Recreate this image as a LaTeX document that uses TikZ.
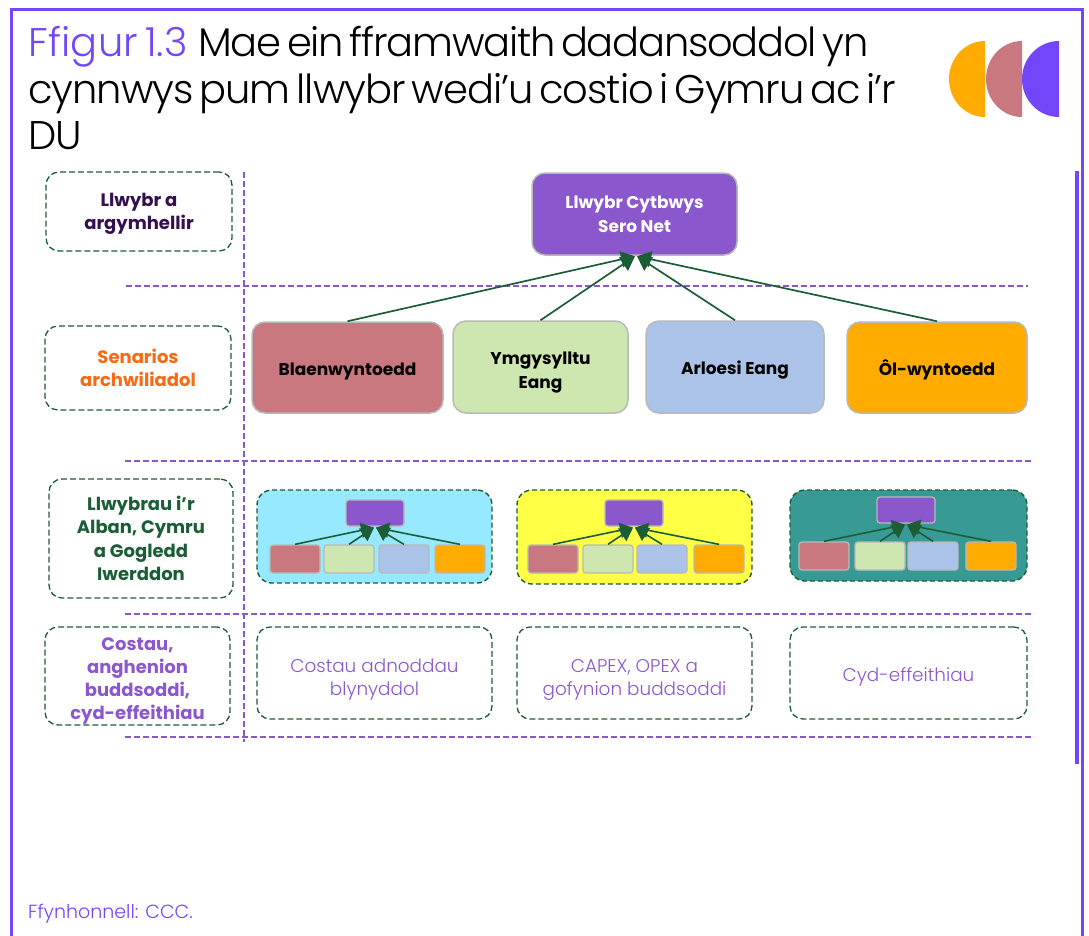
\documentclass[tikz,border=0pt]{standalone}
\usepackage{fontspec}
\setmainfont{Poppins}
\newfontfamily\lightfont[LetterSpace=-2.6,WordSpace=0.6]{Poppins Light}
\newfontfamily\lightfontB[LetterSpace=-3.1,WordSpace=0.6]{Poppins Light}
\newfontfamily\figfont[LetterSpace=0.7,WordSpace=0.6]{Poppins Light}
\newfontfamily\costfont{Poppins Light}
\usetikzlibrary{arrows.meta,calc}
\definecolor{frameviolet}{HTML}{7446F9}
\definecolor{boxpurple}{HTML}{8A57CC}
\definecolor{rose}{HTML}{C8787E}
\definecolor{lightgreen}{HTML}{CEE6B0}
\definecolor{lightblue}{HTML}{ABC3E8}
\definecolor{amber}{HTML}{FFAB00}
\definecolor{darkgreen}{HTML}{1B5E35}
\definecolor{edgegrey}{HTML}{B9B9B9}
\definecolor{deeppurple}{HTML}{34104F}
\definecolor{orangetext}{HTML}{F96A14}
\definecolor{skypanel}{HTML}{97E9FF}
\definecolor{yellowpanel}{HTML}{FFFF45}
\definecolor{tealpanel}{HTML}{389A94}
\newcommand{\rectnode}[6]{\node[#1,minimum width={(#4)-(#3)},minimum height={(#6)-(#5)}] (#2) at ({((#3)+(#4))/2},{((#5)+(#6))/2})}
\newcommand{\tallfirst}[1]{\rule{0pt}{#1}}
\newcommand{\minitree}[7]{%
 \rectnode{minibox,fill=boxpurple}{#1t}{#2}{#2+58}{#3}{#3+26}{};
 \rectnode{minibox,fill=rose}{#1a}{#4}{#4+50}{#3+45}{#3+73}{};
 \rectnode{minibox,fill=lightgreen}{#1b}{#5}{#5+50}{#3+45}{#3+73}{};
 \rectnode{minibox,fill=lightblue}{#1c}{#6}{#6+50}{#3+45}{#3+73}{};
 \rectnode{minibox,fill=amber}{#1d}{#7}{#7+50}{#3+45}{#3+73}{};
 \coordinate (#1L) at ($(#1t.south)+(-1,1)$);
 \coordinate (#1R) at ($(#1t.south)+(1,1)$);
 \draw[minilink] (#1a.north) -- (#1L);
 \draw[minilink] (#1b.north) -- (#1L);
 \draw[minilink] (#1c.north) -- (#1R);
 \draw[minilink] (#1d.north) -- (#1R);
}
\tikzset{
 labelbox/.style={draw=darkgreen,dash pattern=on 6pt off 3pt,line width=1.3pt,rounded corners=13pt,inner sep=0pt,align=center,font=\fontsize{18}{23.5}\selectfont\bfseries},
 costbox/.style={draw=darkgreen,dash pattern=on 6pt off 3pt,line width=1.3pt,rounded corners=13pt,inner sep=0pt,align=center,font=\costfont\fontsize{18.4}{23.5}\selectfont,text=boxpurple},
 scenario/.style={draw=edgegrey,line width=1.5pt,rounded corners=13pt,inner sep=0pt,align=center,font=\fontsize{17}{24}\selectfont\bfseries,text=black},
 panel/.style={draw=darkgreen,dash pattern=on 5pt off 3pt,line width=1.4pt,rounded corners=15pt,inner sep=0pt},
 minibox/.style={draw=edgegrey,line width=1.3pt,rounded corners=3pt,inner sep=0pt},
 guide/.style={draw=boxpurple,line width=1.3pt,dash pattern=on 6pt off 3pt},
 mainlink/.style={draw=darkgreen,line width=1.7pt,-{Triangle[length=14pt,width=16pt]}},
 minilink/.style={draw=darkgreen,line width=1.6pt,-{Triangle[length=13pt,width=15pt]}},
 frameline/.style={draw=frameviolet,line width=3pt},
 titletext/.style={anchor=base west,inner sep=0pt,font=\lightfont\fontsize{40}{40}\selectfont},
}
\begin{document}
\begin{tikzpicture}[x=1pt,y=-1pt]
\useasboundingbox (0,0) rectangle (1089,935);
% frame
\coordinate (f1) at (11.5,936); \coordinate (f2) at (11.5,9.5); \coordinate (f3) at (1082.5,9.5); \coordinate (f4) at (1082.5,936);
\draw[frameline] (f1) -- (f2) -- (f3) -- (f4);
\coordinate (r1) at (1077,171); \coordinate (r2) at (1077,764);
\draw[frameline,line width=4pt] (r1) -- (r2);
% title
\node[titletext,font=\figfont\fontsize{40}{40}\selectfont,text=frameviolet] (title1a) at (28,56) {Ffigur 1.3};
\node[titletext,font=\lightfontB\fontsize{40}{40}\selectfont] (title1b) at (198,56) {Mae ein fframwaith dadansoddol yn};
\node[titletext] (title2) at (28,103) {cynnwys pum llwybr wedi’u costio i Gymru ac i’r};
\node[titletext] (title3) at (28,149) {DU};
% logo
\fill[amber] (985,41) arc[start angle=270,end angle=90,x radius=36,y radius=38] -- cycle;
\fill[rose] (1022,41) arc[start angle=270,end angle=90,x radius=36,y radius=38] -- cycle;
\fill[frameviolet] (1059,41) arc[start angle=270,end angle=90,x radius=37,y radius=38] -- cycle;
% guides
\coordinate (v1) at (244,172); \coordinate (v2) at (244,742);
\draw[guide] (v1) -- (v2);
\coordinate (h1a) at (126,286); \coordinate (h1b) at (1028,286);
\coordinate (h2a) at (125,461); \coordinate (h2b) at (1033,461);
\coordinate (h3a) at (125,614); \coordinate (h3b) at (1034,614);
\coordinate (h4a) at (125,737); \coordinate (h4b) at (1034,737);
\draw[guide] (h1a) -- (h1b);
\draw[guide] (h2a) -- (h2b);
\draw[guide] (h3a) -- (h3b);
\draw[guide] (h4a) -- (h4b);
% left labels
\rectnode{labelbox,text=deeppurple}{l1}{46}{232}{172}{251}{\tallfirst{18pt}Llwybr a\\argymhellir};
\rectnode{labelbox,text=orangetext}{l2}{45}{231}{326}{410}{Senarios\\archwiliadol};
\rectnode{labelbox,text=darkgreen}{l3}{49}{233}{479}{598}{Llwybrau i’r\\Alban, Cymru\\a Gogledd\\Iwerddon};
\rectnode{labelbox,text=boxpurple}{l4}{45}{230}{627}{725}{\tallfirst{22pt}Costau,\\[-0.5pt]anghenion\\[-0.5pt]buddsoddi,\\[-0.5pt]cyd-effeithiau};
% main tree
\rectnode{scenario,fill=boxpurple,text=white}{main}{532}{737}{173}{255}{Llwybr Cytbwys\\Sero Net};
\rectnode{scenario,fill=rose}{s1}{252}{443}{322}{413}{\tallfirst{20pt}Blaenwyntoedd};
\rectnode{scenario,fill=lightgreen}{s2}{453}{628}{321}{413}{\tallfirst{24pt}Ymgysylltu\\Eang};
\rectnode{scenario,fill=lightblue}{s3}{646}{824}{321}{413}{\tallfirst{20pt}Arloesi Eang};
\rectnode{scenario,fill=amber}{s4}{847}{1027}{322}{413}{\tallfirst{20pt}Ôl-wyntoedd};
\coordinate (mL) at ($(main.south)+(0.5,0.5)$); \coordinate (mR) at ($(main.south)+(2.5,0.5)$);
\draw[mainlink] (s1.north) -- (mL);
\draw[mainlink] (s2.north) -- (mL);
\draw[mainlink] (s3.north) -- (mR);
\draw[mainlink] (s4.north) -- (mR);
% panels
\rectnode{panel,fill=skypanel}{p1}{257}{492}{490}{583}{};
\rectnode{panel,fill=yellowpanel}{p2}{517}{752}{490}{584}{};
\rectnode{panel,fill=tealpanel}{p3}{790}{1027}{490}{581}{};
\minitree{a}{346}{500}{270}{324}{379}{435}
\minitree{b}{605}{500}{528}{583}{637}{694}
\minitree{c}{877}{497}{799}{855}{908}{966}
% costs
\rectnode{costbox}{c1}{257}{492}{627}{719}{\tallfirst{27pt}Costau adnoddau\\blynyddol};
\rectnode{costbox}{c2}{517}{752}{627}{719}{\tallfirst{27pt}CAPEX, OPEX a\\gofynion buddsoddi};
\rectnode{costbox}{c3}{790}{1027}{627}{719}{\tallfirst{22pt}Cyd-effeithiau};
% source
\node[anchor=base west,inner sep=0pt,font=\costfont\fontsize{19}{22}\selectfont,text=frameviolet] (src) at (28,918) {Ffynhonnell: CCC.};
\end{tikzpicture}
\end{document}
